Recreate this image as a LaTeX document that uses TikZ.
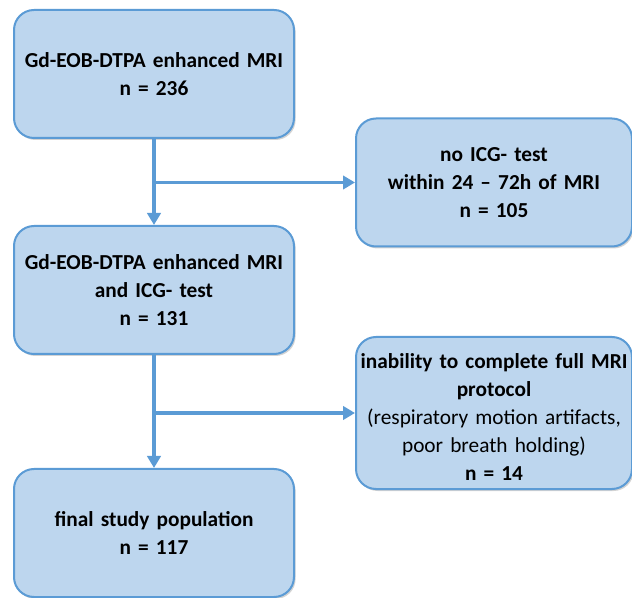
\documentclass[tikz,border=0pt]{standalone}
\usepackage{fontspec}
\setmainfont{Carlito}
\usetikzlibrary{arrows.meta,shadows}
\definecolor{boxfill}{HTML}{BDD6EE}
\definecolor{boxline}{HTML}{5B9BD5}
\begin{document}
\begin{tikzpicture}[x=0.75pt,y=-0.75pt,
    stepbox/.style={draw=boxline, line width=1.5pt, fill=boxfill,
        rounded corners=15pt, align=center, inner sep=2pt,
        minimum width=210pt, minimum height=96pt, text width=200pt,
        font=\fontsize{16}{21}\selectfont\bfseries,
        drop shadow={opacity=0.35, shadow xshift=1.2pt, shadow yshift=-1.5pt}},
    flow/.style={draw=boxline, line width=2.8pt,
        -{Triangle[length=9pt,width=10pt]}}]
            \useasboundingbox (0,0) rectangle (632,598);
            % ---------- left column ----------
            \node[stepbox] (mri) at (154,74)
                {Gd-EOB-DTPA enhanced MRI\\ n = 236};
            \node[stepbox] (icg) at (154,290)
                {Gd-EOB-DTPA enhanced MRI\\ and ICG- test\\ n = 131};
            \node[stepbox] (final) at (154,533)
                {final study population\\ n = 117};
            % ---------- exclusions ----------
            \node[stepbox, minimum width=207pt, text width=197pt] (noicg) at (494,182.5)
                {no ICG- test\\ within 24 -- 72h of MRI\\ n = 105};
            \node[stepbox, minimum width=207pt, text width=197pt,
                minimum height=114pt] (inab) at (494,413)
                {\rule{0pt}{18pt}\makebox[\linewidth]{inability to complete full MRI}\\ protocol\\
                 {\mdseries (respiratory motion artifacts,}\\
                 {\mdseries poor breath holding)}\\ n = 14};
            % ---------- arrows ----------
            \draw[flow] (mri.south) -- (icg.north);
            \draw[flow] (icg.south) -- (final.north);
            \coordinate (b1) at (mri.south |- noicg.west);
            \coordinate (b2) at (icg.south |- inab.west);
            \draw[flow] (b1) -- (noicg.west);
            \draw[flow] (b2) -- (inab.west);
\end{tikzpicture}
\end{document}
